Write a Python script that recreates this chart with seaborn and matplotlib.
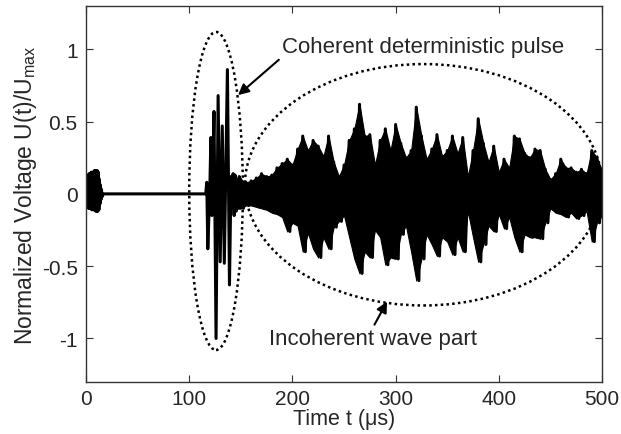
import numpy as np
import pandas as pd
import matplotlib
matplotlib.use("Agg")
import matplotlib.pyplot as plt
from matplotlib.patches import Ellipse
import seaborn as sns

# early trigger burst (0-15 us): upper / lower peaks read every 1 us
burst_t = [1, 2, 3, 4, 5, 6, 7, 8, 9, 10, 11, 12, 13, 14, 15]
burst_upper = [0.12, 0.13, 0.14, 0.14, 0.15, 0.15, 0.15, 0.16, 0.16, 0.16, 0.16, 0.15, 0.10, 0.06, 0.03]
burst_lower = [-0.09, -0.10, -0.10, -0.10, -0.11, -0.11, -0.11, -0.11, -0.12, -0.12, -0.12, -0.11, -0.07, -0.04, -0.02]

# coherent pulse, individual extrema
pulse_t = [17, 116, 117, 118, 120, 121, 122, 124, 126, 128, 130, 132, 134, 137, 139,
           140.5, 141.5, 142.5, 143.5, 144.5, 145.5, 146.5, 147.5, 148.5, 149.5]
pulse_v = [0.0, 0.0, 0.08, -0.38, 0.05, 0.39, -0.15, 0.57, -1.00, 0.68, -0.47, 0.47, -0.48, 0.86, -0.63,
           0.12, -0.10, 0.14, -0.15, 0.13, -0.12, 0.10, -0.10, 0.12, -0.10]

# incoherent part: envelope peaks read every 5 us from 150 to 500
env_t = list(range(150, 501, 5))
env_upper = [0.10, 0.08, 0.09, 0.11, 0.14, 0.12, 0.13, 0.18, 0.21, 0.24,
             0.20, 0.31, 0.40, 0.30, 0.37, 0.33, 0.26, 0.40, 0.22, 0.12,
             0.20, 0.37, 0.45, 0.62, 0.40, 0.41, 0.20, 0.37, 0.45, 0.30,
             0.48, 0.35, 0.25, 0.30, 0.60, 0.40, 0.24, 0.31, 0.41, 0.26,
             0.30, 0.40, 0.28, 0.39, 0.12, 0.30, 0.52, 0.35, 0.22, 0.33,
             0.15, 0.24, 0.18, 0.40, 0.38, 0.28, 0.25, 0.31, 0.30, 0.17,
             0.10, 0.14, 0.24, 0.18, 0.18, 0.15, 0.17, 0.14, 0.30, 0.25,
             0.16]
env_lower = [-0.10, -0.08, -0.08, -0.09, -0.10, -0.11, -0.13, -0.14, -0.16, -0.26,
             -0.20, -0.22, -0.40, -0.27, -0.38, -0.44, -0.30, -0.38, -0.23, -0.19,
             -0.15, -0.30, -0.45, -0.55, -0.40, -0.44, -0.25, -0.30, -0.49, -0.44,
             -0.45, -0.28, -0.22, -0.40, -0.60, -0.45, -0.28, -0.35, -0.43, -0.30,
             -0.33, -0.42, -0.30, -0.40, -0.12, -0.30, -0.47, -0.35, -0.22, -0.26,
             -0.14, -0.24, -0.16, -0.30, -0.40, -0.28, -0.30, -0.30, -0.31, -0.20,
             -0.10, -0.13, -0.14, -0.16, -0.13, -0.17, -0.15, -0.12, -0.33, -0.20,
             -0.15]

# assemble the trace: each read peak is followed by the opposite peak half a step later
t, v = [], []
for ti, hi, lo in zip(burst_t, burst_upper, burst_lower):
    t += [ti, ti + 0.5]
    v += [hi, lo]
t += pulse_t
v += pulse_v
for ti, hi, lo in zip(env_t, env_upper, env_lower):
    t += [ti, ti + 2.5]
    v += [hi, lo]
df = pd.DataFrame({"t": t, "U": v})
df = df[df.t <= 500]

sns.set_style("ticks")
plt.rcParams["font.family"] = ["Liberation Sans", "DejaVu Sans"]
plt.rcParams["mathtext.fontset"] = "custom"
plt.rcParams["mathtext.rm"] = "Liberation Sans"

fig = plt.figure(figsize=(6.21, 4.35), dpi=100)
ax = fig.add_axes([0.1385, 0.12, 0.831, 0.864])

# the oscillation is far denser than the pixel grid, so the band between peaks is solid
ax.fill_between(env_t, env_lower, env_upper, color="black", lw=0.8, ec="black")
ax.fill_between(burst_t, burst_lower, burst_upper, color="black", lw=0.8, ec="black")
sns.lineplot(data=df, x="t", y="U", estimator=None, sort=False, color="black", lw=2.2, ax=ax)

# dotted ellipses marking the two parts
ax.add_patch(Ellipse((126, 0.02), 52, 2.2, fill=False, ec="black", lw=1.8, ls=(0, (1, 1.3))))
ax.add_patch(Ellipse((327, 0.063), 346, 1.67, fill=False, ec="black", lw=1.8, ls=(0, (1, 1.3))))

ax.annotate("Coherent deterministic pulse", xy=(147.3, 0.683), xytext=(190, 1.02),
            fontsize=16, va="center", ha="left",
            arrowprops=dict(arrowstyle="-|>", color="black", lw=1.5, shrinkA=0, shrinkB=0,
                            relpos=(0, 0)))
ax.annotate("Incoherent wave part", xy=(291.7, -0.745), xytext=(177, -1.0),
            fontsize=16, va="center", ha="left",
            arrowprops=dict(arrowstyle="-|>", color="black", lw=1.5, shrinkA=0, shrinkB=0,
                            relpos=(0.5, 1.0)))

ax.set_xlim(0, 500)
ax.set_ylim(-1.3, 1.3)
ax.set_xticks([0, 100, 200, 300, 400, 500])
ax.set_yticks([-1, -0.5, 0, 0.5, 1])
ax.set_yticklabels(["-1", "-0.5", "0", "0.5", "1"])
ax.tick_params(direction="in", top=True, right=True, length=5, width=0.8,
               labelsize=15, color="#333333")
ax.tick_params(axis="x", pad=5)
ax.tick_params(axis="y", pad=6)
for s in ax.spines.values():
    s.set_visible(True)
    s.set_linewidth(1)
    s.set_color("#333333")

ax.set_xlabel("Time t (\u03bcs)", fontsize=15.5, labelpad=0)
ax.set_ylabel("Normalized Voltage U(t)/U$_{\\mathrm{max}}$", fontsize=16.5, labelpad=2)

fig.savefig("out.png", dpi=100)
